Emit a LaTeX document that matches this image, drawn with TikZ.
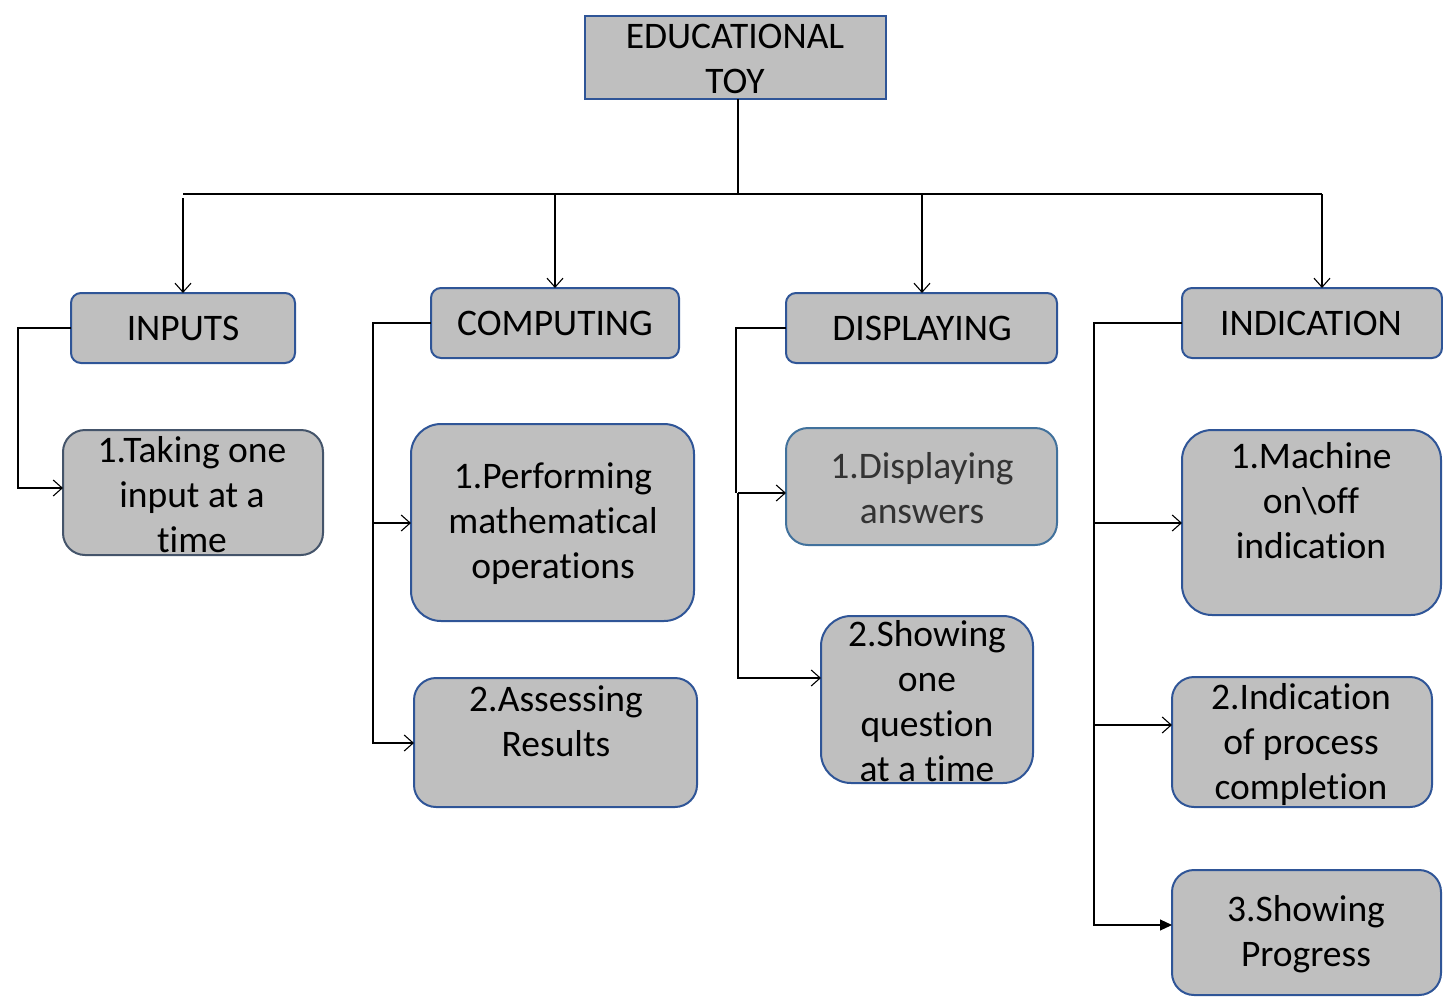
\documentclass[tikz,border=0pt]{standalone}
\usepackage{fontspec}
\setmainfont[Ligatures={NoCommon,NoRare,NoContextual},RawFeature={-calt}]{Carlito}
\usetikzlibrary{arrows.meta}
\definecolor{boxfill}{HTML}{BFBFBF}
\definecolor{boxblue}{HTML}{2F5597}
\definecolor{boxslate}{HTML}{44546A}
\definecolor{boxlight}{HTML}{41719C}
\definecolor{txtgrey}{HTML}{333333}
\begin{document}
\begin{tikzpicture}[x=1pt,y=-1pt,
  box/.style={draw=boxblue,fill=boxfill,line width=2pt,rounded corners=#1,inner sep=0pt},
  box/.default=10pt,
  txt/.style={align=center,font=\fontsize{37.5}{45}\selectfont,inner sep=0pt},
  conn/.style={line width=1.1pt,black},
  barb/.style={conn,-{Straight Barb[length=9pt,width=16pt,line width=1.1pt]}},
  filled/.style={conn,-{Triangle[length=12pt,width=11pt]}}]
\useasboundingbox (0,0) rectangle (1443,1001);

% top
\draw[box=0pt] (585,16) rectangle (886,99);
\node[txt] (edu) at (735,58.5) {EDUCATIONAL\\TOY};
\coordinate (edub) at (738,99);
\coordinate (hub) at (738,194);

% category boxes
\draw[box] (71,293) rectangle (295,363);   \node[txt] (inputs) at (183,328) {INPUTS};
\draw[box] (431,288) rectangle (679,358);  \node[txt] (comp) at (555,323) {COMPUTING};
\draw[box] (786,293) rectangle (1057,363); \node[txt] (disp) at (922,328) {DISPLAYING};
\draw[box] (1182,288) rectangle (1442,358);\node[txt] (ind) at (1311,323) {INDICATION};

% sub boxes
\draw[box=22pt,draw=boxslate] (63,430) rectangle (323,555);
\node[txt] (take) at (192,495) {1.Taking one\\input at a\\time};
\draw[box=30pt] (411,424) rectangle (694,621);
\node[txt] (perf) at (553,524) {1.Performing\\mathematical\\operations};
\draw[box=22pt] (414,678) rectangle (697,807);
\node[txt] (assess) at (556,721) {2.Assessing\\Results};
\draw[box=22pt,draw=boxlight] (786,428) rectangle (1057,545);
\node[txt,text=txtgrey] (dans) at (922,488.5) {1.Displaying\\answers};
\draw[box=30pt] (821,616) rectangle (1033,783);
\node[txt] (showq) at (927,701.5) {2.Showing\\one\\question\\at a time};
\draw[box=30pt] (1182,430) rectangle (1441,615);
\node[txt] (mach) at (1311,501) {1.Machine\\on\textbackslash off\\indication};
\draw[box=22pt] (1172,677) rectangle (1432,807);
\node[txt] (proc) at (1301,744) {2.Indication\\of process\\completion};
\draw[box=22pt] (1172,870) rectangle (1441,995);
\node[txt] (prog) at (1306,934.5) {3.Showing\\Progress};

% trunk
\draw[conn] (edub) -- (hub);
\draw[conn] (183,194) -- (1322,194);
\draw[barb] (183,198) -- (183,293);
\draw[barb] (555,194) -- (555,288);
\draw[barb] (922,194) -- (922,293);
\draw[barb] (1322,194) -- (1322,288);

% inputs
\draw[barb] (71,328) -- (18,328) -- (18,488) -- (63,488);
% computing
\draw[barb] (431,323) -- (373,323) -- (373,743) -- (414,743);
\draw[barb] (373,523) -- (411,523);
% displaying
\draw[conn] (786,328) -- (736,328) -- (736,493);
\draw[barb] (738,493) -- (786,493);
\draw[barb] (738,493) -- (738,678) -- (821,678);
% indication
\draw[filled] (1182,323) -- (1094,323) -- (1094,925) -- (1172,925);
\draw[barb] (1094,523) -- (1182,523);
\draw[barb] (1094,725) -- (1172,725);
\end{tikzpicture}
\end{document}
